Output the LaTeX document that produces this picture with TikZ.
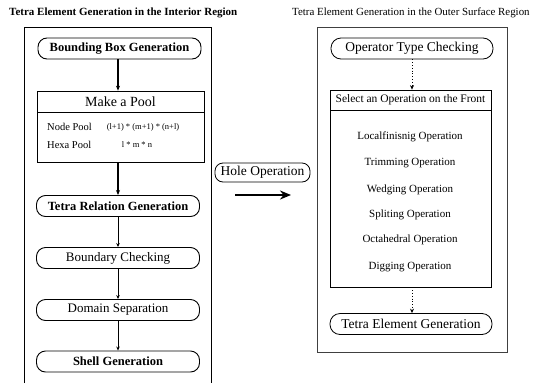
\documentclass[tikz,border=0pt]{standalone}
\usepackage{fontspec}
\setmainfont{Liberation Serif}
\usetikzlibrary{arrows.meta}
\begin{document}
\begin{tikzpicture}[x=1pt,y=-1pt,
  pill/.style={draw,line width=0.9pt,rounded corners=9pt,minimum width=163pt,minimum height=21pt,inner sep=0pt,font=\bfseries\fontsize{12.5}{13}\selectfont},
  rpill/.style={draw,line width=0.8pt,rounded corners=10pt,minimum width=162pt,minimum height=21pt,inner sep=0pt,font=\fontsize{13.5}{14}\selectfont},
  plainbox/.style={draw,line width=0.7pt,inner sep=0pt},
  optext/.style={font=\fontsize{11}{12}\selectfont,inner sep=0pt},
  thickarr/.style={line width=1.6pt,-{Stealth[length=5pt,width=4pt]}},
  thinarr/.style={line width=0.8pt,-{Stealth[length=4pt,width=3.5pt]}},
  dotarr/.style={line width=0.8pt,dotted,-{Stealth[length=4.5pt,width=4pt]}}
]
\useasboundingbox (0,0) rectangle (535,383);
\fill[white] (0,0) rectangle (535,383);

% titles
\node[anchor=west,inner sep=0pt,font=\bfseries\fontsize{11}{12}\selectfont] (tl) at (9,13) {Tetra Element Generation in the Interior Region};
\node[anchor=west,inner sep=0pt,font=\fontsize{10.9}{12}\selectfont] (tr) at (292,13) {Tetra Element Generation in the Outer Surface Region};

% left frame (open at bottom)
\draw[line width=0.9pt] (24,383) -- (24,27) -- (211,27) -- (211,383);

% left flow
\node[pill] (bbg) at (119.5,48.5) {Bounding Box Generation};
\node[plainbox,minimum width=167pt,minimum height=21pt,font=\fontsize{14}{15}\selectfont] (ph) at (120.5,101.5) {Make a Pool};
\node[plainbox,minimum width=167pt,minimum height=50pt] (pb) at (120.5,137) {};
\node[anchor=west,inner sep=0pt,font=\fontsize{10.5}{11}\selectfont] (np) at (47,127) {Node Pool};
\node[anchor=west,inner sep=0pt,font=\fontsize{10.5}{11}\selectfont] (hp) at (47,145) {Hexa Pool};
\node[inner sep=0pt,font=\fontsize{8.5}{9}\selectfont] (npf) at (143,127) {(l+1) * (m+1) * (n+l)};
\node[inner sep=0pt,font=\fontsize{8.5}{9}\selectfont] (hpf) at (137,145) {l * m * n};
\node[pill] (trg) at (118,206) {Tetra Relation Generation};
\node[pill,font=\fontsize{13}{14}\selectfont] (bc) at (118,258) {Boundary Checking};
\node[pill,font=\fontsize{13}{14}\selectfont] (ds) at (118,310) {Domain Separation};
\node[pill] (sg) at (118,361.5) {Shell Generation};

\draw[thickarr] (bbg.south -| 118,0) -- (ph.north -| 118,0);
\draw[thickarr] (pb.south -| 118,0) -- (trg.north);
\draw[thinarr] (trg.south) -- (bc.north);
\draw[thinarr] (bc.south) -- (ds.north);
\draw[thinarr] (ds.south) -- (sg.north);

% hole operation
\node[draw,line width=0.8pt,rounded corners=8pt,minimum width=95pt,minimum height=19pt,inner sep=0pt,font=\fontsize{13.5}{14}\selectfont] (ho) at (262.5,172.5) {Hole Operation};
\coordinate (ha) at (235,195);
\coordinate (hb) at (291,195);
\draw[line width=2.4pt,-{Stealth[length=11pt,width=9pt]}] (ha) -- (hb);

% right frame
\draw[line width=0.7pt,draw=black!75] (317,27) rectangle (507,352);
\node[rpill] (otc) at (412,48.5) {Operator Type Checking};
\node[plainbox,minimum width=161pt,minimum height=20pt,font=\fontsize{11.5}{12}\selectfont] (sh) at (410.5,100) {Select an Operation on the Front};
\node[plainbox,minimum width=161pt,minimum height=177pt] (sb) at (410.5,198.5) {};
\node[optext] (o1) at (410,137) {Localfinisnig Operation};
\node[optext] (o2) at (410,163) {Trimming Operation};
\node[optext] (o3) at (410,190) {Wedging Operation};
\node[optext] (o4) at (410,215) {Spliting Operation};
\node[optext] (o5) at (410,240) {Octahedral Operation};
\node[optext] (o6) at (410,267) {Digging Operation};
\node[rpill] (teg) at (411,324) {Tetra Element Generation};

\draw[dotarr] (otc.south -| 412,0) -- (sh.north -| 412,0);
\draw[dotarr] (sb.south -| 412,0) -- (teg.north -| 412,0);
\end{tikzpicture}
\end{document}
